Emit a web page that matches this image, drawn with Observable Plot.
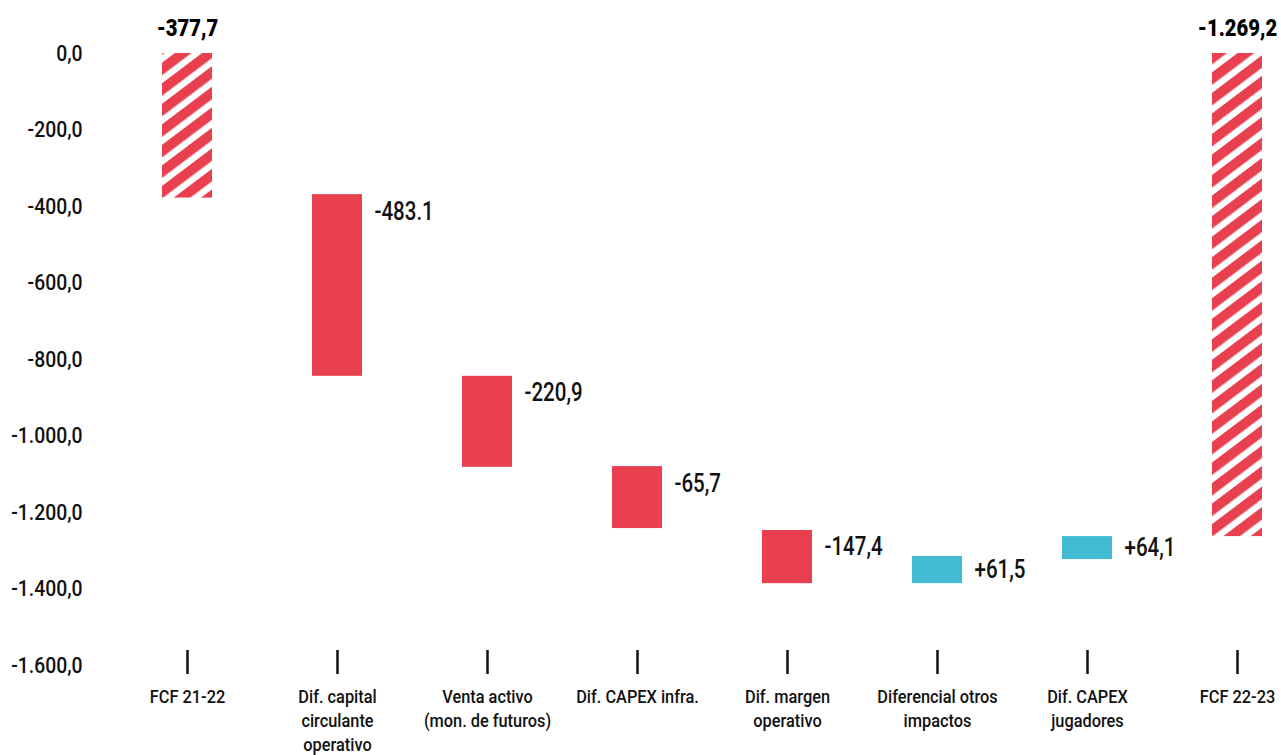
<!DOCTYPE html>
<html>
<head>
<meta charset="utf-8">
<script src="https://cdn.jsdelivr.net/npm/d3@7"></script>
<script src="https://cdn.jsdelivr.net/npm/@observablehq/plot@0.6"></script>
<style>
  html, body { margin: 0; padding: 0; background: #fff; }
  #chart svg { display: block; }
</style>
</head>
<body>
<div id="chart"></div>
<script>
// ---- Data ----
const categories = [
  "FCF 21-22",
  "Dif. capital\ncirculante\noperativo",
  "Venta activo\n(mon. de futuros)",
  "Dif. CAPEX infra.",
  "Dif. margen\noperativo",
  "Diferencial otros\nimpactos",
  "Dif. CAPEX\njugadores",
  "FCF 22-23"
];
const starts = [0, -369, -844, -1080, -1247, -1386, -1323, 0];
const ends   = [-378, -844, -1082, -1242, -1386, -1315, -1263, -1263];
const kinds  = ["total", "decrease", "decrease", "decrease", "decrease", "increase", "increase", "total"];
const valueLabels = ["-377,7", "-483.1", "-220,9", "-65,7", "-147,4", "+61,5", "+64,1", "-1.269,2"];
const yTicks = [0, -200, -400, -600, -800, -1000, -1200, -1400, -1600];

const rows = categories.map((c, i) => ({
  cat: c, start: starts[i], end: ends[i], kind: kinds[i], label: valueLabels[i]
}));

const RED = "#e8404e";
const CYAN = "#41bcd3";
const FONT = "Roboto, 'Noto Sans', sans-serif";

const es = d3.formatLocale({decimal: ",", thousands: ".", grouping: [3], currency: ["", "€"], minus: "-"});
const fmt = es.format(",.1f");

const chart = Plot.plot({
  width: 1281,
  height: 755,
  marginTop: 53,
  marginLeft: 88,
  marginRight: 0,
  marginBottom: 105,
  style: {fontFamily: FONT, color: "#111", background: "#fff"},
  x: {type: "band", domain: categories, range: [111, 1312], paddingInner: 0.667, paddingOuter: 0.3335, label: null},
  y: {domain: [0, -1600], range: [53, 665], label: null},
  marks: [
    Plot.barY(rows.filter(d => d.kind !== "total"), {
      x: "cat", y1: "start", y2: "end",
      fill: d => d.kind === "increase" ? CYAN : RED
    }),
    Plot.barY(rows.filter(d => d.kind === "total"), {
      x: "cat", y1: "start", y2: "end", fill: "url(#hatch)"
    }),
    Plot.axisY({ticks: yTicks, tickFormat: fmt, tickSize: 0, tickPadding: 6, fontSize: 22, fontWeight: 500, label: null}),
    Plot.axisX({anchor: "bottom", tickSize: 24, tickPadding: 11, fontSize: 19, fontWeight: 500, lineHeight: 1.27, strokeWidth: 2.5, stroke: "#111", label: null}),
    // value labels for decreases: near the top of the bar
    Plot.text(rows.filter(d => d.kind === "decrease"), {
      x: "cat", y: "start", text: "label", dx: 37, dy: 17, textAnchor: "start",
      fontSize: 25, fontWeight: 500, fill: "#111"
    }),
    // value labels for increases: centered on the bar
    Plot.text(rows.filter(d => d.kind === "increase"), {
      x: "cat", y: d => (d.start + d.end) / 2, text: "label", dx: 37, textAnchor: "start",
      fontSize: 25, fontWeight: 500, fill: "#111"
    }),
    // totals above bars
    Plot.text(rows.filter(d => d.kind === "total"), {
      x: "cat", y: "start", text: "label", dy: -25,
      fontSize: 23, fontWeight: 900, fill: "#000"
    })
  ]
});

// hatch pattern definition
const ns = "http://www.w3.org/2000/svg";
const defs = document.createElementNS(ns, "defs");
const pat = document.createElementNS(ns, "pattern");
pat.setAttribute("id", "hatch");
pat.setAttribute("patternUnits", "userSpaceOnUse");
pat.setAttribute("width", "16.4");
pat.setAttribute("height", "16.4");
pat.setAttribute("patternTransform", "rotate(53)");
const bg = document.createElementNS(ns, "rect");
bg.setAttribute("width", "16.4"); bg.setAttribute("height", "16.4"); bg.setAttribute("fill", "#fff");
const st = document.createElementNS(ns, "rect");
st.setAttribute("width", "10"); st.setAttribute("height", "16.4"); st.setAttribute("fill", RED);
pat.appendChild(bg); pat.appendChild(st);
defs.appendChild(pat);
chart.insertBefore(defs, chart.firstChild);

document.getElementById("chart").appendChild(chart);

// condensed look: squeeze glyphs horizontally with textLength (keeps anchors)
function condense(group, s) {
  if (!group) return;
  group.querySelectorAll("text").forEach(t => {
    const spans = t.querySelectorAll("tspan");
    const items = spans.length ? Array.from(spans) : [t];
    items.forEach(el => {
      const w = el.getComputedTextLength();
      if (w > 0) {
        el.setAttribute("textLength", (w * s).toFixed(2));
        el.setAttribute("lengthAdjust", "spacingAndGlyphs");
      }
    });
  });
}
condense(chart.querySelector('g[aria-label="y-axis tick label"]'), 0.88);
condense(chart.querySelector('g[aria-label="x-axis tick label"]'), 0.86);
const textGroups = chart.querySelectorAll('g[aria-label="text"]');
condense(textGroups[0], 0.82);
condense(textGroups[1], 0.82);
condense(textGroups[2], 0.88);
</script>
</body>
</html>
